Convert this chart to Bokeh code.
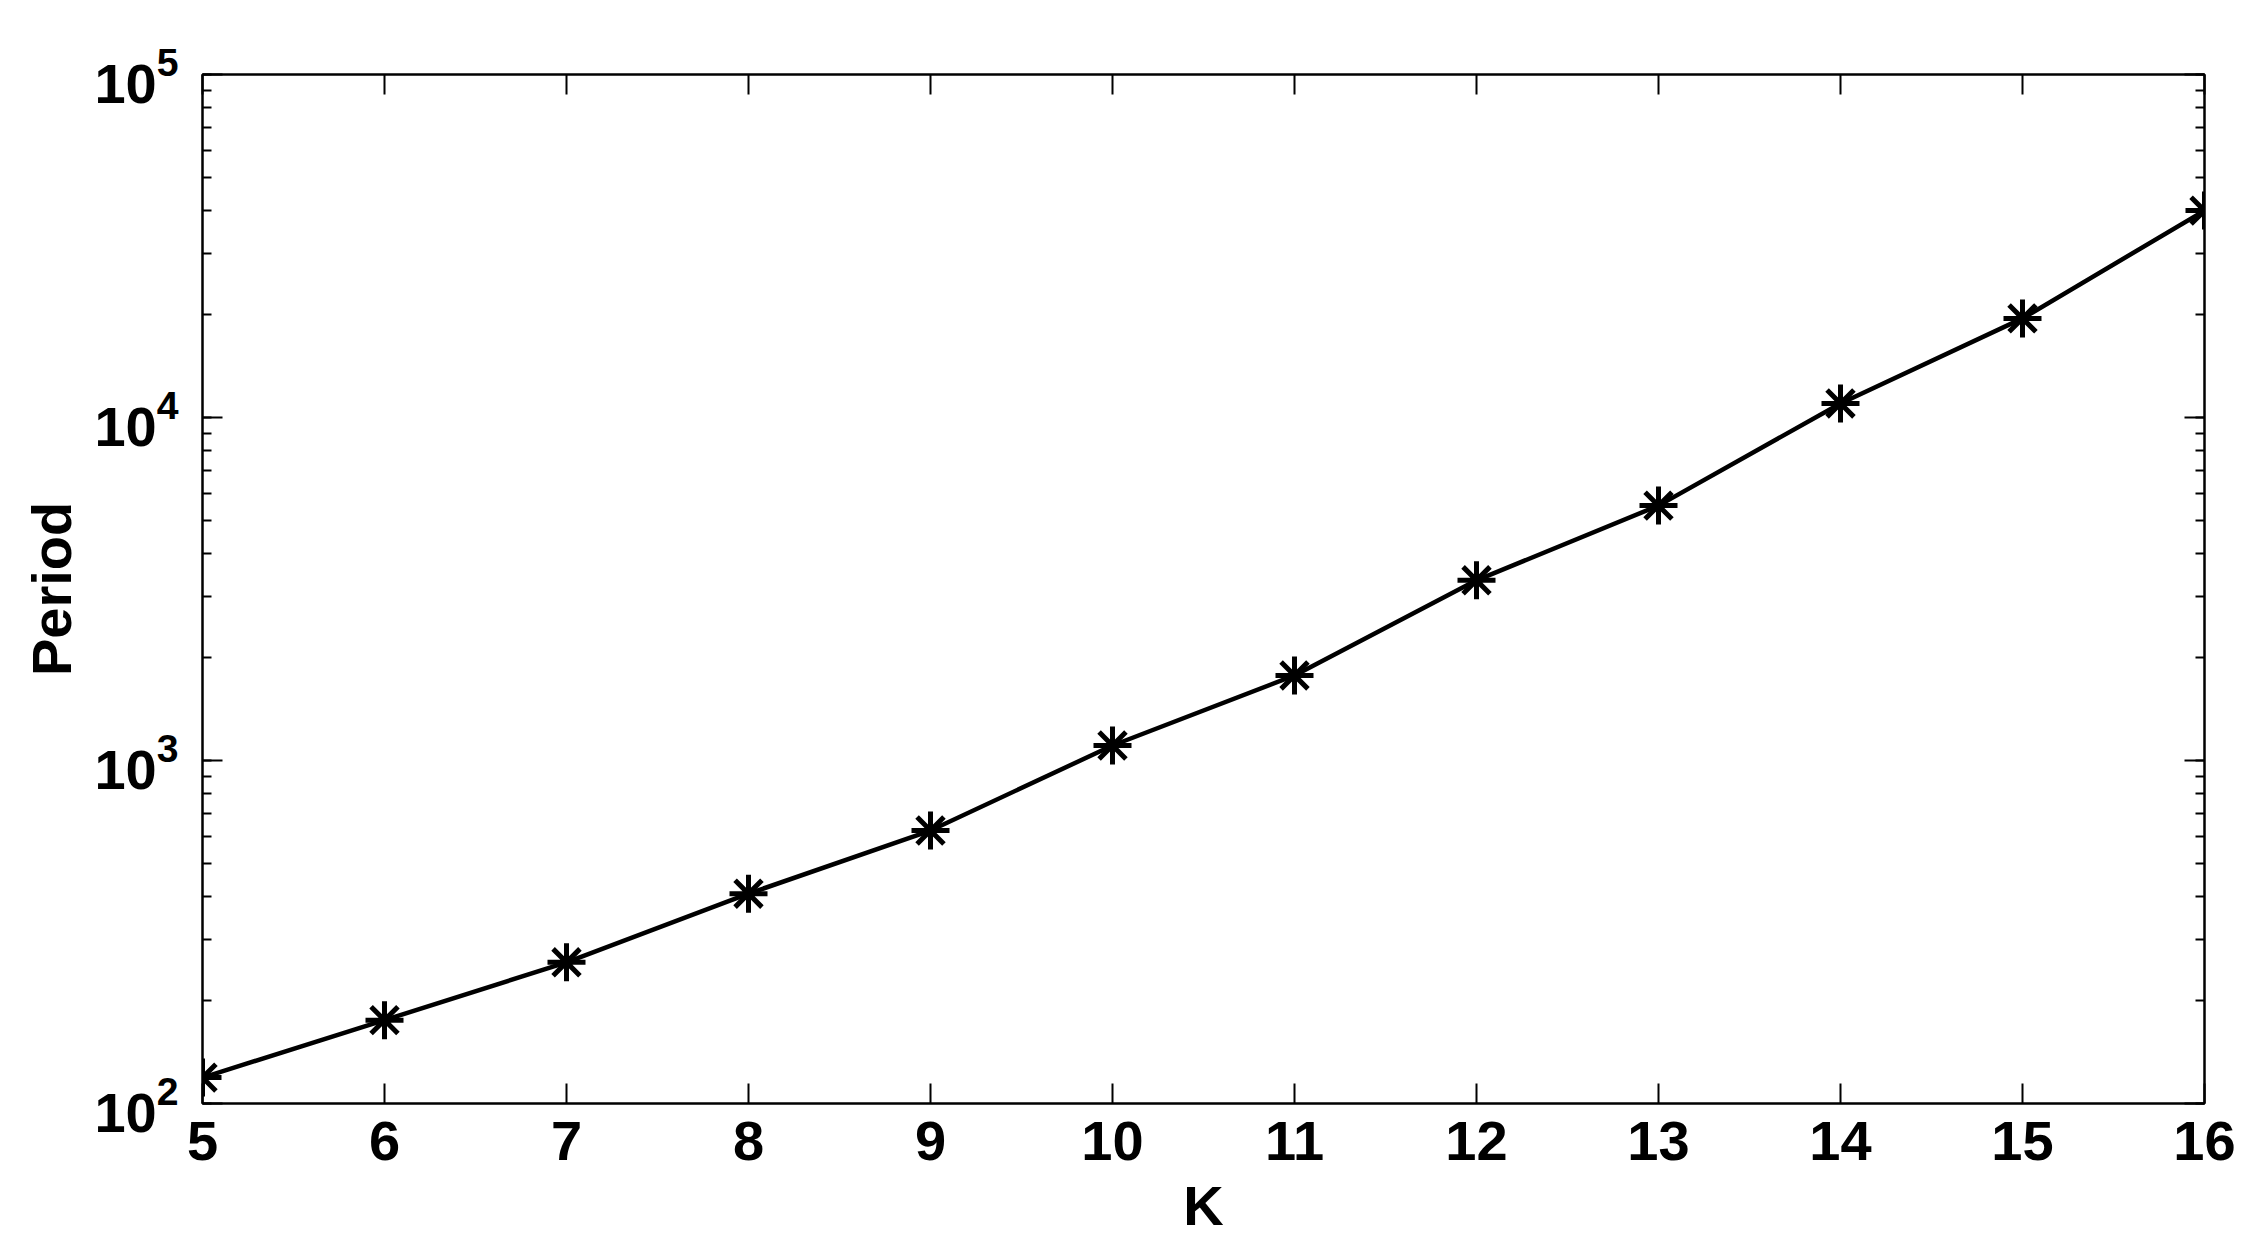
from bokeh.plotting import figure
from bokeh.models import LogAxis, LinearAxis, FixedTicker, LogTicker, Range1d
from bokeh.embed import file_html
from bokeh.resources import INLINE

K = [5, 6, 7, 8, 9, 10, 11, 12, 13, 14, 15, 16]
period = [119, 175, 258, 409, 625, 1106, 1770, 3352, 5535, 10990, 19450, 40100]
x_ticks = [5, 6, 7, 8, 9, 10, 11, 12, 13, 14, 15, 16]

FONT = "Liberation Sans"

p = figure(width=2236, height=1241, output_backend="svg", toolbar_location=None,
           y_axis_type="log", x_range=Range1d(5, 16), y_range=Range1d(100, 100000),
           min_border_left=202, min_border_right=32, min_border_top=74, min_border_bottom=138)
p.background_fill_color = "white"
p.border_fill_color = "white"
p.grid.visible = False
p.outline_line_color = "black"
p.outline_line_width = 2

p.line(K, period, line_color="black", line_width=4.5)
p.scatter(K, period, marker="asterisk", size=38, line_color="black", line_width=5)

def style(ax, labels=True):
    ax.axis_line_color = "black"
    ax.axis_line_width = 2
    ax.major_tick_line_width = 2
    ax.minor_tick_line_width = 2
    ax.major_tick_in = 20
    ax.major_tick_out = 0
    ax.minor_tick_in = 9
    ax.minor_tick_out = 0
    ax.major_label_text_font = FONT
    ax.major_label_text_font_style = "bold"
    ax.major_label_text_font_size = "56px"
    ax.major_label_text_color = "black"
    ax.axis_label_text_font = FONT
    ax.axis_label_text_font_style = "bold"
    ax.axis_label_text_font_size = "56px"
    ax.axis_label_text_color = "black"
    if not labels:
        ax.major_label_text_font_size = "0px"
        ax.major_label_text_alpha = 0

xa = p.xaxis[0]
xa.ticker = FixedTicker(ticks=x_ticks, minor_ticks=[])
xa.axis_label = "K"
xa.major_label_standoff = 18
xa.axis_label_standoff = 11
style(xa)

ya = p.yaxis[0]
ya.ticker = LogTicker(desired_num_ticks=4, num_minor_ticks=10)
ya.axis_label = "Period"
ya.major_label_standoff = 24
ya.axis_label_standoff = 8
style(ya)

top = LinearAxis(ticker=FixedTicker(ticks=x_ticks, minor_ticks=[]))
style(top, labels=False)
p.add_layout(top, "above")
right = LogAxis(ticker=LogTicker(desired_num_ticks=4, num_minor_ticks=10))
style(right, labels=False)
p.add_layout(right, "right")

open("out.html", "w").write(file_html(p, INLINE))
